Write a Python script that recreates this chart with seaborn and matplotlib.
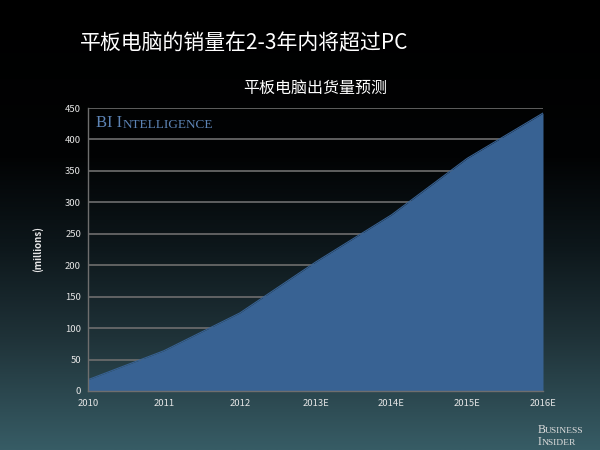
import numpy as np
import pandas as pd
import matplotlib
matplotlib.use('Agg')
import matplotlib.pyplot as plt
import seaborn as sns
from matplotlib.colors import LinearSegmentedColormap

#%% Data

years = ['2010', '2011', '2012', '2013E', '2014E', '2015E', '2016E']
shipments = [18, 64, 124, 205, 280, 370, 442]
yticks = [0, 50, 100, 150, 200, 250, 300, 350, 400, 450]

df = pd.DataFrame({'year': years, 'shipments': shipments})
df['pos'] = np.arange(len(df))

#%% Style

sns.set_style('dark')
plt.rcParams['font.family'] = ['Noto Sans CJK SC', 'DejaVu Sans']

fill_color = '#386293'
grid_color = '#6e6e6e'
text_color = '#e6e6e6'

fig = plt.figure(figsize=(6, 4.5), dpi=100)
fig.patch.set_facecolor('black')

# background gradient
bg = fig.add_axes([0, 0, 1, 1], zorder=0)
bg_cmap = LinearSegmentedColormap.from_list('bg', [
    (0.0, '#000000'), (0.35, '#020304'), (0.55, '#0d171b'),
    (0.75, '#1f3238'), (1.0, '#375c65')])
grad = np.linspace(0, 1, 256).reshape(-1, 1)
bg.imshow(grad, aspect='auto', cmap=bg_cmap, extent=[0, 1, 0, 1], origin='upper')
bg.set_axis_off()

ax = fig.add_axes([88 / 600, 1 - 391 / 450, (543 - 88) / 600, (391 - 108) / 450], zorder=1)
ax.set_facecolor('none')

#%% Plot

ax.fill_between(df['pos'], 0, df['shipments'], color=fill_color, lw=0, zorder=2)
sns.lineplot(data=df, x='pos', y='shipments', color=fill_color, lw=0.8, ax=ax, zorder=3)

ax.set_xlim(0, len(years) - 1)
ax.set_ylim(0, 450)
ax.set_xticks(df['pos'])
ax.set_xticklabels(years)
ax.set_yticks(yticks)
ax.set_yticklabels([str(v) for v in yticks])

ax.grid(axis='y', color=grid_color, lw=1.2, zorder=1)
ax.grid(axis='x', visible=False)
for side in ['left', 'bottom']:
    ax.spines[side].set_visible(True)
    ax.spines[side].set_color(grid_color)
    ax.spines[side].set_linewidth(1.0)
    ax.spines[side].set_zorder(4)
for side in ['top', 'right']:
    ax.spines[side].set_visible(False)

ax.tick_params(axis='both', colors=grid_color, labelcolor=text_color,
               labelsize=6.8, length=3, width=0.8, direction='out')
ax.tick_params(axis='x', pad=3)
ax.tick_params(axis='y', pad=2)

ax.set_xlabel('')
ax.set_ylabel('(millions)', color=text_color, fontsize=7, fontweight='bold', labelpad=16)

#%% Titles and labels

fig.text(80 / 600, 1 - 43 / 450, '平板电脑的销量在2-3年内将超过PC', color='white',
         fontsize=15, ha='left', va='center')
fig.text(315 / 600, 1 - 88 / 450, '平板电脑出货量预测', color='white',
         fontsize=11.5, ha='center', va='center')

t1 = ax.text(96 / 600, 1 - 131 / 450, 'BI I', transform=fig.transFigure, color='#5d84b5',
             fontsize=12, family='Liberation Serif', ha='left', va='bottom')
ax.annotate('NTELLIGENCE', xy=(1, 0), xycoords=t1, color='#5d84b5',
            fontsize=9.5, family='Liberation Serif', ha='left', va='bottom')

b1 = fig.text(538 / 600, 1 - 433 / 450, 'B', color='#dddddd', fontsize=8.5,
              family='Liberation Serif', ha='left', va='baseline')
b2 = fig.text(538 / 600, 1 - 445 / 450, 'I', color='#dddddd', fontsize=8.5,
              family='Liberation Serif', ha='left', va='baseline')
fig.text(545 / 600, 1 - 433 / 450, 'USINESS', color='#dddddd', fontsize=6.8,
         family='Liberation Serif', ha='left', va='baseline')
fig.text(541.5 / 600, 1 - 445 / 450, 'NSIDER', color='#dddddd', fontsize=6.8,
         family='Liberation Serif', ha='left', va='baseline')

fig.savefig('out.png', dpi=100, facecolor=fig.get_facecolor())
